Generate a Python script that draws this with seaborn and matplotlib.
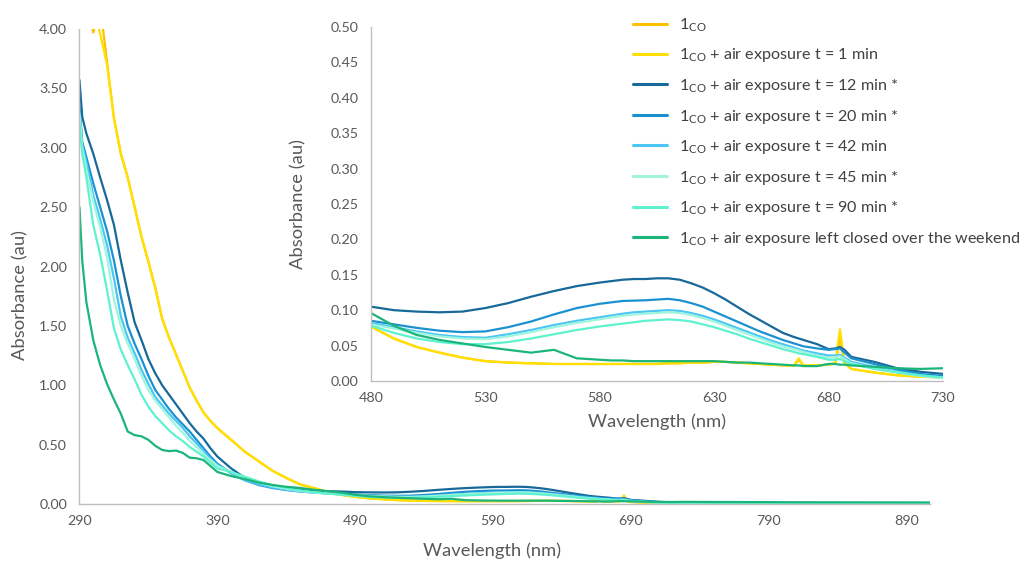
import numpy as np
import pandas as pd
import matplotlib
matplotlib.use("Agg")
import matplotlib.pyplot as plt
import seaborn as sns

# wavelength grid (nm) shared by all spectra
wavelength = [
    290, 292, 295, 300, 305, 310, 315, 320, 325, 330, 335, 340, 345, 350, 355, 360, 365, 370, 375, 380, 385, 390,
    400, 410, 420, 430, 440, 450, 460, 470, 480,
    490, 500, 510, 520, 530, 540, 550, 560, 570, 580, 585, 590, 595, 600, 605, 610, 615, 620, 625, 630, 635, 640, 645, 650, 655, 660,
    665, 667, 669, 675, 680, 683, 685, 687, 690,
    700, 710, 720, 730, 750, 780, 786, 788, 790, 792, 800, 850, 907,
]

abs_1co = [
    4.30, 4.30, 4.30, 3.97, 4.20, 3.72, 3.25, 2.95, 2.75, 2.50, 2.25, 2.04, 1.82, 1.56, 1.40, 1.26, 1.12, 0.98, 0.87, 0.77, 0.70, 0.64,
    0.54, 0.44, 0.36, 0.28, 0.22, 0.165, 0.135, 0.100, 0.077,
    0.060, 0.048, 0.040, 0.033, 0.028, 0.026, 0.025, 0.024, 0.024, 0.024, 0.024, 0.024, 0.024, 0.024, 0.024, 0.025, 0.025, 0.026,
    0.026, 0.027, 0.027, 0.026, 0.025, 0.024, 0.023, 0.022,
    0.022, 0.030, 0.022, 0.022, 0.023, 0.025, 0.060, 0.025, 0.017,
    0.012, 0.008, 0.006, 0.005, 0.006, 0.005, 0.016, 0.006, 0.014, 0.006, 0.005, 0.005, 0.005,
]
abs_1min = [
    4.30, 4.30, 4.30, 4.20, 3.96, 3.70, 3.25, 2.95, 2.75, 2.50, 2.25, 2.04, 1.82, 1.56, 1.40, 1.26, 1.12, 0.98, 0.87, 0.77, 0.70, 0.64,
    0.54, 0.44, 0.36, 0.28, 0.22, 0.165, 0.135, 0.100, 0.077,
    0.060, 0.048, 0.040, 0.033, 0.028, 0.026, 0.025, 0.024, 0.024, 0.024, 0.024, 0.024, 0.024, 0.024, 0.024, 0.025, 0.025, 0.026,
    0.026, 0.027, 0.027, 0.026, 0.025, 0.024, 0.023, 0.022,
    0.022, 0.032, 0.022, 0.022, 0.023, 0.026, 0.073, 0.026, 0.017,
    0.012, 0.008, 0.006, 0.005, 0.006, 0.005, 0.018, 0.006, 0.016, 0.006, 0.005, 0.005, 0.005,
]
abs_12min = [
    3.57, 3.26, 3.12, 2.95, 2.75, 2.56, 2.35, 2.05, 1.78, 1.53, 1.38, 1.22, 1.10, 1.00, 0.92, 0.84, 0.76, 0.68, 0.61, 0.55, 0.47, 0.40,
    0.30, 0.22, 0.18, 0.155, 0.135, 0.122, 0.115, 0.108, 0.105,
    0.100, 0.098, 0.097, 0.098, 0.103, 0.110, 0.119, 0.127, 0.134, 0.139, 0.141, 0.143, 0.144, 0.144, 0.145, 0.145, 0.143, 0.138,
    0.132, 0.124, 0.115, 0.105, 0.095, 0.086, 0.077, 0.068,
    0.062, 0.060, 0.058, 0.052, 0.045, 0.046, 0.048, 0.044, 0.034,
    0.027, 0.018, 0.013, 0.010, 0.008, 0.007, 0.012, 0.015, 0.010, 0.007, 0.007, 0.007, 0.007,
]
abs_20min = [
    3.35, 3.05, 2.92, 2.70, 2.50, 2.30, 2.05, 1.75, 1.50, 1.35, 1.22, 1.08, 0.96, 0.88, 0.80, 0.73, 0.67, 0.61, 0.54, 0.47, 0.40, 0.34,
    0.26, 0.20, 0.16, 0.135, 0.118, 0.105, 0.097, 0.090, 0.085,
    0.080, 0.075, 0.071, 0.069, 0.070, 0.076, 0.084, 0.094, 0.103, 0.109, 0.111, 0.113, 0.1135, 0.114, 0.115, 0.116, 0.114, 0.110,
    0.105, 0.098, 0.091, 0.084, 0.077, 0.070, 0.064, 0.058,
    0.053, 0.051, 0.049, 0.046, 0.044, 0.045, 0.046, 0.040, 0.032,
    0.024, 0.016, 0.010, 0.007, 0.006, 0.006, 0.008, 0.007, 0.006, 0.006, 0.006, 0.006, 0.006,
]
abs_42min = [
    3.30, 3.02, 2.88, 2.60, 2.40, 2.18, 1.90, 1.58, 1.40, 1.27, 1.13, 1.01, 0.90, 0.83, 0.76, 0.70, 0.64, 0.57, 0.51, 0.45, 0.38, 0.33,
    0.26, 0.20, 0.165, 0.14, 0.12, 0.107, 0.097, 0.088, 0.082,
    0.076, 0.070, 0.065, 0.062, 0.061, 0.066, 0.072, 0.079, 0.085, 0.090, 0.0925, 0.095, 0.097, 0.098, 0.099, 0.100, 0.099, 0.096,
    0.092, 0.087, 0.081, 0.075, 0.069, 0.063, 0.057, 0.052,
    0.047, 0.045, 0.043, 0.039, 0.036, 0.036, 0.037, 0.033, 0.027,
    0.020, 0.013, 0.008, 0.005, 0.005, 0.005, 0.005, 0.005, 0.005, 0.005, 0.005, 0.005, 0.005,
]
abs_45min = [
    3.28, 3.00, 2.82, 2.55, 2.33, 2.08, 1.72, 1.50, 1.35, 1.22, 1.08, 0.96, 0.87, 0.80, 0.73, 0.66, 0.60, 0.53, 0.48, 0.42, 0.37, 0.32,
    0.27, 0.22, 0.18, 0.15, 0.128, 0.110, 0.098, 0.088, 0.080,
    0.074, 0.068, 0.063, 0.060, 0.059, 0.063, 0.069, 0.076, 0.082, 0.087, 0.090, 0.092, 0.094, 0.095, 0.096, 0.097, 0.096, 0.093,
    0.089, 0.084, 0.078, 0.072, 0.066, 0.060, 0.054, 0.049,
    0.045, 0.043, 0.041, 0.036, 0.033, 0.034, 0.035, 0.031, 0.025,
    0.018, 0.012, 0.007, 0.004, 0.004, 0.004, 0.004, 0.004, 0.004, 0.004, 0.004, 0.004, 0.004,
]
abs_90min = [
    3.20, 2.95, 2.75, 2.35, 2.10, 1.80, 1.48, 1.30, 1.17, 1.05, 0.92, 0.82, 0.74, 0.68, 0.62, 0.57, 0.53, 0.48, 0.44, 0.40, 0.35, 0.30,
    0.27, 0.23, 0.19, 0.16, 0.135, 0.115, 0.100, 0.088, 0.078,
    0.068, 0.060, 0.055, 0.052, 0.052, 0.055, 0.060, 0.066, 0.072, 0.077, 0.079, 0.081, 0.083, 0.085, 0.086, 0.087, 0.086, 0.084,
    0.080, 0.076, 0.071, 0.066, 0.060, 0.055, 0.050, 0.045,
    0.041, 0.039, 0.038, 0.034, 0.030, 0.030, 0.031, 0.028, 0.024,
    0.017, 0.012, 0.008, 0.005, 0.005, 0.005, 0.005, 0.005, 0.005, 0.005, 0.005, 0.005, 0.005,
]
abs_weekend = [
    2.50, 2.05, 1.70, 1.38, 1.17, 1.01, 0.88, 0.76, 0.61, 0.58, 0.57, 0.54, 0.49, 0.455, 0.445, 0.45, 0.43, 0.39, 0.385, 0.37, 0.32, 0.27,
    0.235, 0.21, 0.18, 0.16, 0.145, 0.135, 0.120, 0.108, 0.096,
    0.078, 0.065, 0.058, 0.053, 0.048, 0.044, 0.040, 0.044, 0.032, 0.030, 0.029, 0.029, 0.028, 0.028, 0.028, 0.028, 0.028, 0.028,
    0.028, 0.028, 0.027, 0.026, 0.026, 0.025, 0.024, 0.023,
    0.022, 0.022, 0.021, 0.021, 0.024, 0.024, 0.023, 0.023, 0.022,
    0.020, 0.018, 0.017, 0.018, 0.017, 0.016, 0.016, 0.016, 0.016, 0.016, 0.015, 0.014, 0.013,
]

series_labels = [
    r"1$_\mathregular{CO}$",
    r"1$_\mathregular{CO}$ + air exposure t = 1 min",
    r"1$_\mathregular{CO}$ + air exposure t = 12 min *",
    r"1$_\mathregular{CO}$ + air exposure t = 20 min *",
    r"1$_\mathregular{CO}$ + air exposure t = 42 min",
    r"1$_\mathregular{CO}$ + air exposure t = 45 min *",
    r"1$_\mathregular{CO}$ + air exposure t = 90 min *",
    r"1$_\mathregular{CO}$ + air exposure left closed over the weekend",
]
series_values = [abs_1co, abs_1min, abs_12min, abs_20min, abs_42min, abs_45min, abs_90min, abs_weekend]
series_colors = ["#FFC000", "#FFE000", "#17699A", "#1C91D0", "#4CC6F5", "#A0F5DC", "#5FF2CF", "#1BB57A"]

main_xticks = [290, 390, 490, 590, 690, 790, 890]
main_yticks = [0, 0.5, 1.0, 1.5, 2.0, 2.5, 3.0, 3.5, 4.0]
inset_xticks = [480, 530, 580, 630, 680, 730]
inset_yticks = [0, 0.05, 0.10, 0.15, 0.20, 0.25, 0.30, 0.35, 0.40, 0.45, 0.50]

df = pd.concat(
    [pd.DataFrame({"Wavelength": wavelength, "Absorbance": v, "Series": lab})
     for lab, v in zip(series_labels, series_values)],
    ignore_index=True,
)
palette = dict(zip(series_labels, series_colors))

sns.set_theme(style="white")
font = "Lato"
plt.rcParams["font.family"] = [font, "DejaVu Sans"]
plt.rcParams["mathtext.fontset"] = "custom"
plt.rcParams["mathtext.rm"] = font
plt.rcParams["mathtext.it"] = font
plt.rcParams["mathtext.bf"] = font

text_grey = "#595959"
spine_grey = "#BFBFBF"


def style_axes(ax, xticks, yticks, xlim, ylim, fmt):
    ax.set_xlim(*xlim)
    ax.set_ylim(*ylim)
    ax.set_xticks(xticks)
    ax.set_yticks(yticks)
    ax.set_yticklabels([fmt.format(t) for t in yticks])
    for side in ["top", "right"]:
        ax.spines[side].set_visible(False)
    for side in ["left", "bottom"]:
        ax.spines[side].set_color(spine_grey)
        ax.spines[side].set_linewidth(1.0)
    ax.tick_params(axis="both", length=0, labelsize=10.3, labelcolor=text_grey)
    ax.tick_params(axis="x", pad=8)
    ax.tick_params(axis="y", pad=9)
    ax.set_xlabel("Wavelength (nm)", fontsize=13.2, color=text_grey)
    ax.set_ylabel("Absorbance (au)", fontsize=13.2, color=text_grey)
    ax.grid(False)


fig = plt.figure(figsize=(10.19, 5.61), dpi=100)
ax = fig.add_axes([0.078, 0.1016, 0.8346, 0.8467])
sns.lineplot(data=df, x="Wavelength", y="Absorbance", hue="Series", hue_order=series_labels,
             palette=palette, sort=False, linewidth=1.6, ax=ax, legend=True)
style_axes(ax, main_xticks, main_yticks, (290, 907), (0, 4.0), "{:.2f}")
ax.xaxis.set_label_coords(0.485, -0.080)
ax.yaxis.set_label_coords(-0.0605, 0.44)

handles, labels = ax.get_legend_handles_labels()
ax.get_legend().remove()

axin = fig.add_axes([0.364, 0.3209, 0.5613, 0.631])
sns.lineplot(data=df, x="Wavelength", y="Absorbance", hue="Series", hue_order=series_labels,
             palette=palette, sort=False, linewidth=1.6, ax=axin, legend=False)
style_axes(axin, inset_xticks, inset_yticks, (480, 730), (0, 0.5), "{:.2f}")
axin.patch.set_alpha(0.0)
axin.xaxis.set_label_coords(0.5, -0.093)
axin.yaxis.set_label_coords(-0.1136, 0.5)

leg = fig.legend(handles, labels, loc="upper left", bbox_to_anchor=(0.613, 0.985),
                 frameon=False, fontsize=11.6, handlelength=2.1, handletextpad=0.75,
                 labelspacing=0.78, borderpad=0)
for t in leg.get_texts():
    t.set_color("#404040")
for h in leg.legend_handles:
    h.set_linewidth(2.2)

fig.savefig("out.png", dpi=100)
